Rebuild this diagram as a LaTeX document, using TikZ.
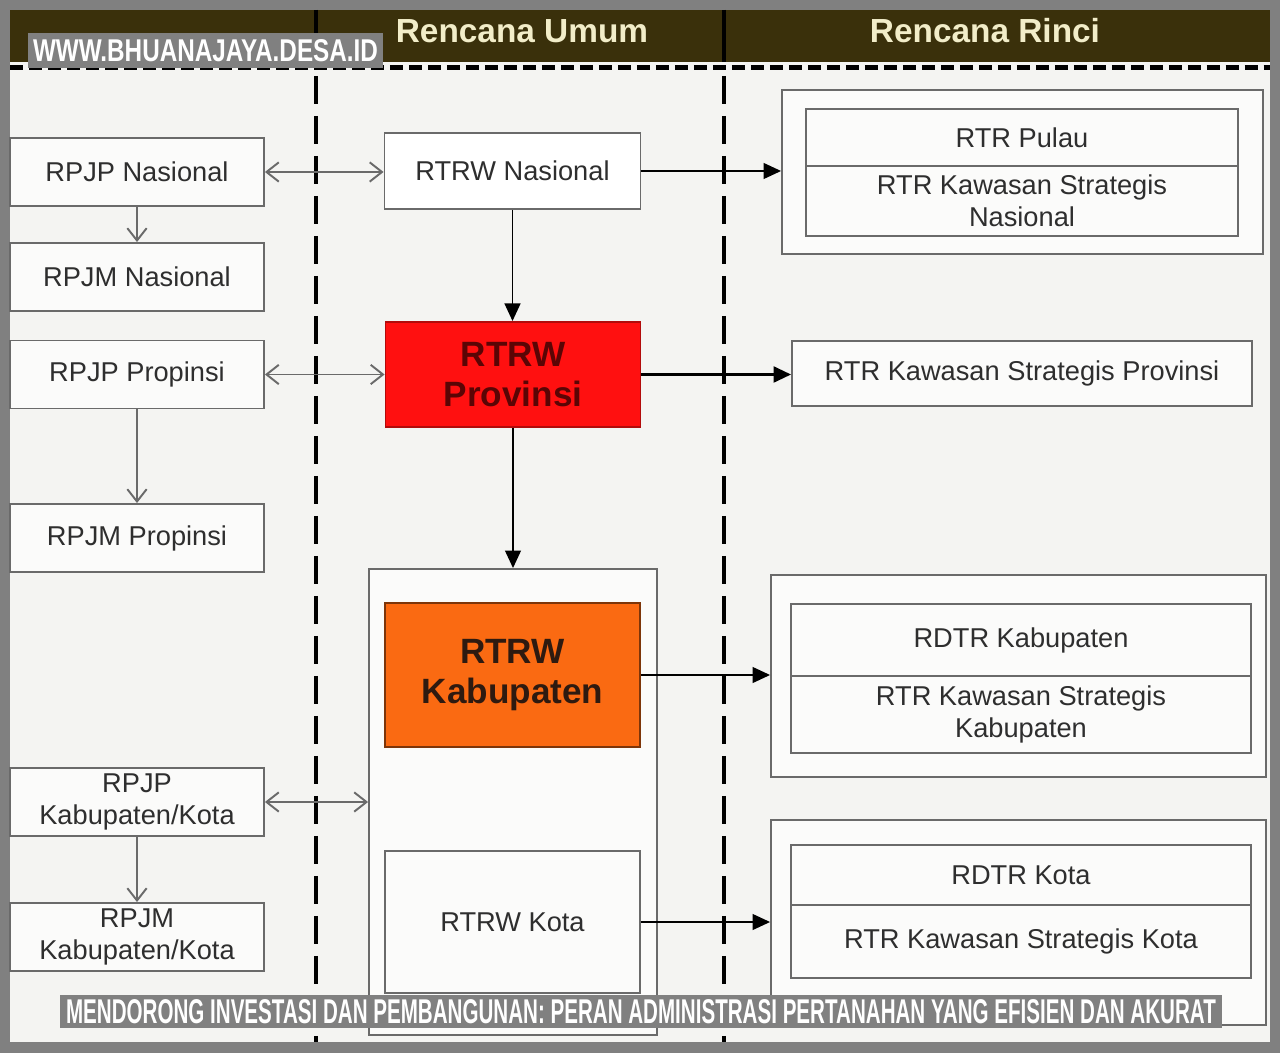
\documentclass[tikz,border=0pt]{standalone}
\usepackage{graphicx,xcolor,fontspec}
\setmainfont{Liberation Sans}
\usetikzlibrary{arrows.meta}

\definecolor{framegray}{HTML}{808080}
\definecolor{paper}{HTML}{F4F4F2}
\definecolor{headbrown}{HTML}{3A300B}
\definecolor{headtext}{HTML}{F2EDC9}
\definecolor{boxline}{HTML}{6A6A6A}
\definecolor{provred}{HTML}{FF1010}
\definecolor{provtext}{HTML}{5A0505}
\definecolor{kaborange}{HTML}{FA6A12}
\definecolor{kabtext}{HTML}{2E1A10}

\begin{document}
\begin{tikzpicture}[x=0.02cm,y=-0.02cm,
  pbox/.style={draw=boxline,line width=1.1pt,fill=white!60!paper,align=center,inner sep=0pt,
    font=\fontsize{15.5}{18}\selectfont,text=black!82},
  bigtext/.style={font=\fontsize{20}{23}\selectfont\bfseries},
  link/.style={draw=boxline,line width=1.1pt,{Straight Barb[length=7pt,width=11pt]}-{Straight Barb[length=7pt,width=11pt]}},
  down/.style={draw=boxline,line width=1.1pt,-{Straight Barb[length=7pt,width=11pt]}},
  feed/.style={draw=black,line width=1.1pt,-{Triangle[length=10pt,width=9pt]}},
  banner/.style={fill=framegray,text=white,inner sep=0pt}]
\useasboundingbox (0,0) rectangle (1280,1053);
\fill[framegray] (0,0) rectangle (1280,1053);
\fill[paper] (10,10) rectangle (1270,1042);
% header
\fill[headbrown] (10,10) rectangle (1270,62);
\draw[line width=0.1cm,dash pattern=on 0.26cm off 0.12cm] (10,68) -- (1270,68);
\foreach \x in {316,724} {
  \draw[line width=0.08cm] (\x,10) -- (\x,62);
  \draw[line width=0.08cm,dash pattern=on 0.56cm off 0.24cm] (\x,76) -- (\x,1042);
}
\node[text=headtext,font=\fontsize{19}{21}\selectfont\bfseries] (umum) at (522,31) {Rencana Umum};
\node[text=headtext,font=\fontsize{19}{21}\selectfont\bfseries] (rinci) at (985,31) {Rencana Rinci};

% jangka panjang / menengah
\node[pbox,minimum width=5.08cm,minimum height=1.36cm] (rpjpnas) at (137,172) {RPJP Nasional};
\node[pbox,minimum width=5.08cm,minimum height=1.36cm] (rpjmnas) at (137,277) {RPJM Nasional};
\node[pbox,minimum width=5.08cm,minimum height=1.36cm] (rpjpprop) at (137,374.5) {RPJP Propinsi};
\node[pbox,minimum width=5.08cm,minimum height=1.36cm] (rpjmprop) at (137,538) {RPJM Propinsi};
\node[pbox,minimum width=5.08cm,minimum height=1.36cm] (rpjpkab) at (137,802) {RPJP\\Kabupaten/Kota};
\node[pbox,minimum width=5.08cm,minimum height=1.36cm] (rpjmkab) at (137,937) {RPJM\\Kabupaten/Kota};

% rencana umum
\node[pbox,fill=white,minimum width=5.12cm,minimum height=1.52cm] (rtrwnas) at (512.5,171) {RTRW Nasional};
\node[pbox,bigtext,fill=provred,draw=provred!70!black,text=provtext,minimum width=5.1cm,minimum height=2.1cm] (rtrwprov) at (513,374.5)
  {RTRW\\Provinsi};
\node[pbox,minimum width=5.76cm,minimum height=9.32cm] (kabkota) at (513,802) {};
\node[pbox,bigtext,fill=kaborange,draw=kaborange!50!black,text=kabtext,minimum width=5.1cm,minimum height=2.88cm] (rtrwkab) at (512.5,675)
  {RTRW\\Kabupaten};
\node[pbox,minimum width=5.1cm,minimum height=2.84cm] (rtrwkota) at (512.5,922) {RTRW Kota};

% rencana rinci
\node[pbox,minimum width=9.62cm,minimum height=3.28cm] (rincinas) at (1022.5,172) {};
\node[pbox,minimum width=8.64cm,minimum height=1.14cm] (pulau) at (1022,137.5) {RTR Pulau};
\node[pbox,minimum width=8.64cm,minimum height=1.4cm] (ksnas) at (1022,201) {RTR Kawasan Strategis\\Nasional};
\node[pbox,minimum width=9.2cm,minimum height=1.3cm] (ksprov) at (1022,373.5) {RTR Kawasan Strategis Provinsi};
\node[pbox,minimum width=9.9cm,minimum height=4.04cm] (rincikab) at (1018.5,676) {};
\node[pbox,minimum width=9.2cm,minimum height=1.44cm] (rdtrkab) at (1021,640) {RDTR Kabupaten};
\node[pbox,minimum width=9.2cm,minimum height=1.54cm] (kskab) at (1021,714.5) {RTR Kawasan Strategis\\Kabupaten};
\node[pbox,minimum width=9.9cm,minimum height=4.1cm] (rincikota) at (1018.5,922.5) {};
\node[pbox,minimum width=9.2cm,minimum height=1.2cm] (rdtrkota) at (1021,875) {RDTR Kota};
\node[pbox,minimum width=9.2cm,minimum height=1.46cm] (kskota) at (1021,941.5) {RTR Kawasan Strategis Kota};

% connectors
\draw[link] (rpjpnas.east) -- (rtrwnas.west |- rpjpnas.east);
\draw[link] (rpjpprop.east) -- (rtrwprov.west);
\draw[link] (rpjpkab.east) -- (kabkota.west |- rpjpkab.east);
\draw[down] (rpjpnas) -- (rpjmnas);
\draw[down] (rpjpprop) -- (rpjmprop);
\draw[down] (rpjpkab) -- (rpjmkab);
\draw[feed] (rtrwnas.east) -- (rincinas.west |- rtrwnas.east);
\draw[feed] (rtrwnas.south) -- (rtrwnas.south |- rtrwprov.north);
\draw[feed,line width=1.7pt] (rtrwprov.east) -- (ksprov.west |- rtrwprov.east);
\draw[feed] (rtrwprov) -- (kabkota);
\draw[feed] (rtrwkab.east) -- (rincikab.west |- rtrwkab.east);
\draw[feed] (rtrwkota.east) -- (rincikota.west |- rtrwkota.east);

% watermark and caption
\node[banner,minimum width=7.1cm,minimum height=0.7cm] (site) at (205.5,50.5)
  {\resizebox{6.9cm}{0.44cm}{\bfseries WWW.BHUANAJAYA.DESA.ID}};
\node[banner,minimum width=23.24cm,minimum height=0.66cm] (caption) at (641,1011.5)
  {\resizebox{23cm}{0.48cm}{\bfseries MENDORONG INVESTASI DAN PEMBANGUNAN: PERAN ADMINISTRASI PERTANAHAN YANG EFISIEN DAN AKURAT}};
\end{tikzpicture}
\end{document}
